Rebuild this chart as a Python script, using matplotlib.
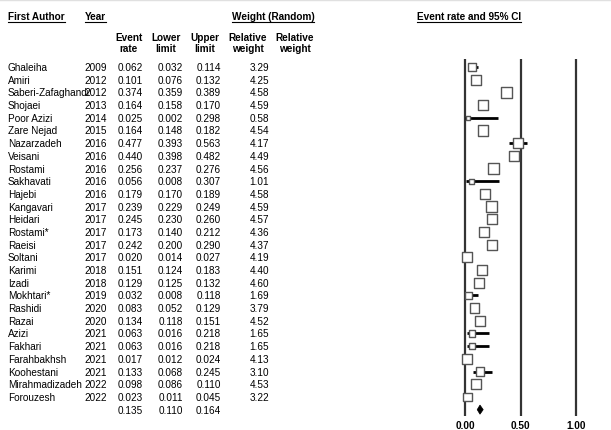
import matplotlib
matplotlib.use("Agg")
import matplotlib.pyplot as plt
import numpy as np
from matplotlib.transforms import blended_transform_factory
from matplotlib.patches import Polygon
from matplotlib.lines import Line2D

plt.rcParams['font.family'] = ['Liberation Sans', 'DejaVu Sans']

authors = ["Ghaleiha", "Amiri", "Saberi-Zafaghandi", "Shojaei", "Poor Azizi", "Zare Nejad",
           "Nazarzadeh", "Veisani", "Rostami", "Sakhavati", "Hajebi", "Kangavari", "Heidari",
           "Rostami*", "Raeisi", "Soltani", "Karimi", "Izadi", "Mokhtari*", "Rashidi", "Razai",
           "Azizi", "Fakhari", "Farahbakhsh", "Koohestani", "Mirahmadizadeh", "Forouzesh"]
years = [2009, 2012, 2012, 2013, 2014, 2015, 2016, 2016, 2016, 2016, 2016, 2017, 2017,
         2017, 2017, 2017, 2018, 2018, 2019, 2020, 2020, 2021, 2021, 2021, 2021, 2022, 2022]
rates = [0.062, 0.101, 0.374, 0.164, 0.025, 0.164, 0.477, 0.440, 0.256, 0.056, 0.179, 0.239,
         0.245, 0.173, 0.242, 0.020, 0.151, 0.129, 0.032, 0.083, 0.134, 0.063, 0.063, 0.017,
         0.133, 0.098, 0.023]
lower = [0.032, 0.076, 0.359, 0.158, 0.002, 0.148, 0.393, 0.398, 0.237, 0.008, 0.170, 0.229,
         0.230, 0.140, 0.200, 0.014, 0.124, 0.125, 0.008, 0.052, 0.118, 0.016, 0.016, 0.012,
         0.068, 0.086, 0.011]
upper = [0.114, 0.132, 0.389, 0.170, 0.298, 0.182, 0.563, 0.482, 0.276, 0.307, 0.189, 0.249,
         0.260, 0.212, 0.290, 0.027, 0.183, 0.132, 0.118, 0.129, 0.151, 0.218, 0.218, 0.024,
         0.245, 0.110, 0.045]
weights = [3.29, 4.25, 4.58, 4.59, 0.58, 4.54, 4.17, 4.49, 4.56, 1.01, 4.58, 4.59, 4.57,
           4.36, 4.37, 4.19, 4.40, 4.60, 1.69, 3.79, 4.52, 1.65, 1.65, 4.13, 3.10, 4.53, 3.22]
summary = (0.135, 0.110, 0.164)
xticks = [0.0, 0.5, 1.0]
xticklabels = ["0.00", "0.50", "1.00"]

W, H = 611, 431
fig = plt.figure(figsize=(W / 100, H / 100), dpi=100)

# forest axes: x=0 at px 465, x=1 at px 576; vertical span px 60..417
px0, px1 = 465.0, 576.0
ax_left, ax_right = 440.0, 600.0
ax_top, ax_bot = 60.0, 417.0
ax = fig.add_axes([ax_left / W, 1 - ax_bot / H, (ax_right - ax_left) / W, (ax_bot - ax_top) / H])
scale = px1 - px0
ax.set_xlim((ax_left - px0) / scale, (ax_right - px0) / scale)
row0, drow = 68.0, 12.69
ax.set_ylim((ax_bot - row0) / drow, (ax_top - row0) / drow)
for s in ax.spines.values():
    s.set_visible(False)
ax.set_yticks([])
ax.set_xticks(xticks)
ax.set_xticklabels(xticklabels, fontweight='bold', fontsize=7.2)
ax.tick_params(axis='x', length=0, pad=3)
ax.patch.set_alpha(0)

for xv in xticks:
    ax.axvline(xv, color='#333333', lw=1.6, zorder=1)

n = len(authors)
ys = np.arange(n)
for i in range(n):
    ax.plot([lower[i], upper[i]], [ys[i], ys[i]], color='black', lw=2.0, solid_capstyle='butt', zorder=2)
side_px = 4.8 * np.sqrt(np.array(weights))
side_pt = side_px * 0.72
ax.scatter(rates, ys, marker='s', s=side_pt ** 2, facecolor='white', edgecolor='#555555',
           linewidths=1.0, zorder=3)

m, lo, hi = summary
ys_sum = n
dh = 0.36
ax.add_patch(Polygon([(lo, ys_sum), (m, ys_sum - dh), (hi, ys_sum), (m, ys_sum + dh)],
                     closed=True, facecolor='black', edgecolor='black', lw=0.5, zorder=3))

# table text
tr = blended_transform_factory(fig.transFigure, ax.transData)
fs = 7.2
def fx(px):
    return px / W

for i in range(n):
    ax.text(fx(8), ys[i], authors[i], transform=tr, fontsize=fs, va='center', ha='left')
    ax.text(fx(107), ys[i], str(years[i]), transform=tr, fontsize=fs, va='center', ha='right')
    ax.text(fx(143), ys[i], f"{rates[i]:.3f}", transform=tr, fontsize=fs, va='center', ha='right')
    ax.text(fx(183), ys[i], f"{lower[i]:.3f}", transform=tr, fontsize=fs, va='center', ha='right')
    ax.text(fx(221), ys[i], f"{upper[i]:.3f}", transform=tr, fontsize=fs, va='center', ha='right')
    ax.text(fx(269), ys[i], f"{weights[i]:.2f}", transform=tr, fontsize=fs, va='center', ha='right')
ax.text(fx(143), ys_sum, f"{m:.3f}", transform=tr, fontsize=fs, va='center', ha='right')
ax.text(fx(183), ys_sum, f"{lo:.3f}", transform=tr, fontsize=fs, va='center', ha='right')
ax.text(fx(221), ys_sum, f"{hi:.3f}", transform=tr, fontsize=fs, va='center', ha='right')

def fy(py):
    return 1 - py / H

underlined = []
underlined.append(fig.text(fx(8), fy(17), "First Author", fontsize=fs, fontweight='bold', va='center', ha='left'))
underlined.append(fig.text(fx(85), fy(17), "Year", fontsize=fs, fontweight='bold', va='center', ha='left'))
underlined.append(fig.text(fx(273), fy(17), "Weight (Random)", fontsize=fs, fontweight='bold', va='center', ha='center'))
underlined.append(fig.text(fx(417), fy(17), "Event rate and 95% CI", fontsize=fs, fontweight='bold', va='center', ha='left'))

headers = [(129, "Event", "rate"), (166, "Lower", "limit"), (205, "Upper", "limit"),
           (248, "Relative", "weight"), (295, "Relative", "weight")]
for cx, l1, l2 in headers:
    fig.text(fx(cx), fy(38), l1, fontsize=fs, fontweight='bold', va='center', ha='center')
    fig.text(fx(cx), fy(49), l2, fontsize=fs, fontweight='bold', va='center', ha='center')

fig.add_artist(Line2D([0, 1], [fy(0.5), fy(0.5)], color='#e0e0e0', lw=1, transform=fig.transFigure))

fig.canvas.draw()
r = fig.canvas.get_renderer()
for t in underlined:
    bb = t.get_window_extent(renderer=r)
    yline = bb.y0 - 0.5
    fig.add_artist(Line2D([bb.x0 / W, bb.x1 / W], [yline / H, yline / H], color='black', lw=0.8,
                          transform=fig.transFigure))

fig.savefig("out.png", dpi=100)
